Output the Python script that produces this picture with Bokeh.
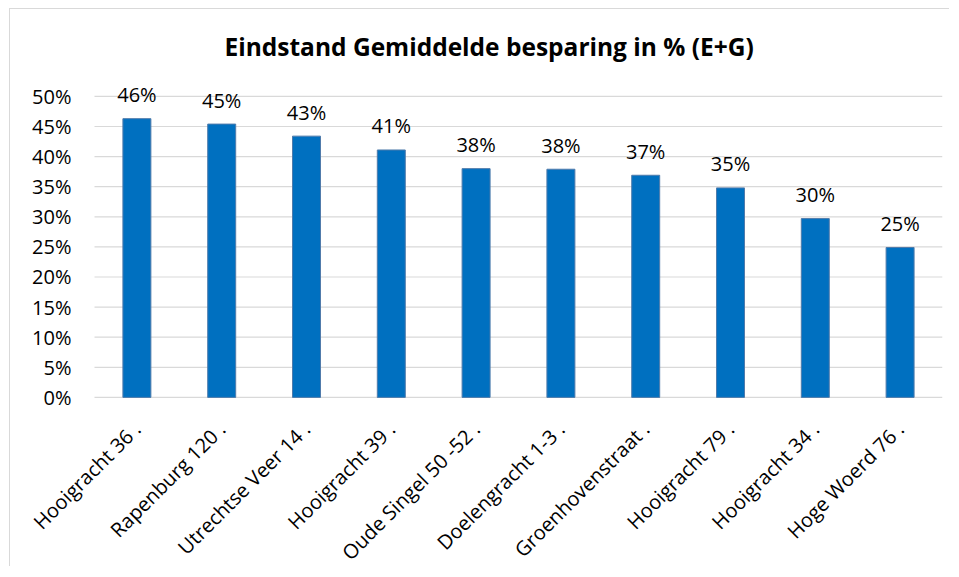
import math
from bokeh.plotting import figure
from bokeh.models import ColumnDataSource, Range1d
from bokeh.core.properties import value
from bokeh.embed import file_html
from bokeh.resources import INLINE

categories = ["Hooigracht 36 .", "Rapenburg 120 .", "Utrechtse Veer 14 .", "Hooigracht 39 .",
              "Oude Singel 50 -52 .", "Doelengracht 1-3 .", "Groenhovenstraat .", "Hooigracht 79 .",
              "Hooigracht 34 .", "Hoge Woerd 76 ."]
savings = [0.463, 0.454, 0.434, 0.411, 0.380, 0.379, 0.369, 0.348, 0.297, 0.249]
y_ticks = [0.0, 0.05, 0.10, 0.15, 0.20, 0.25, 0.30, 0.35, 0.40, 0.45, 0.50]
y_tick_labels = ["0%", "5%", "10%", "15%", "20%", "25%", "30%", "35%", "40%", "45%", "50%"]
title_text = "Eindstand Gemiddelde besparing in % (E+G)"

n = len(categories)
pos = list(range(n))
labels = [f"{round(v * 100)}%" for v in savings]
src = ColumnDataSource(dict(pos=pos, cat=categories, val=savings, lab=labels, base=[0.0] * n))
grid_src = ColumnDataSource(dict(y=y_ticks, lab=y_tick_labels,
                                 x0=[-0.5] * len(y_ticks), x1=[n - 0.5] * len(y_ticks)))

FONT = "Open Sans"
W, H = 940, 558

# the frame reaches past the category area so that the rotated labels and
# the value-axis labels (drawn as text) are not clipped
p = figure(x_range=Range1d(-1.3844, n - 0.5), y_range=Range1d(-0.2826, 0.548),
           width=W, height=H, output_backend="svg", toolbar_location=None,
           min_border_left=9, min_border_right=8, min_border_top=58, min_border_bottom=0,
           styles={"margin-left": "9px", "margin-top": "8px",
                   "border-left": "1px solid #d9d9d9", "border-top": "1px solid #d9d9d9"})

p.title.text = title_text
p.title.text_font = FONT
p.title.text_font_size = "24.5px"
p.title.text_font_style = "bold"
p.title.text_color = "#000000"
p.title.align = "left"
p.title.offset = 205

# gridlines
p.segment(x0="x0", y0="y", x1="x1", y1="y", source=grid_src,
          line_color="#d9d9d9", line_width=1.2)

# value-axis labels
p.text(x="x0", y="y", text="lab", source=grid_src, text_align="right",
       text_baseline="middle", x_offset=-23, text_font=value(FONT),
       text_font_size=value("20px"), text_color="#000000")

p.vbar(x="pos", top="val", width=0.33, source=src, fill_color="#0070C0",
       line_color="#4f7bab", line_width=1)

p.text(x="pos", y="val", text="lab", source=src, text_align="center",
       text_baseline="alphabetic", y_offset=-24, text_font=value(FONT),
       text_font_size=value("20px"), text_color="#000000")

# category labels, rotated 45 degrees, ending under each bar
p.text(x="pos", y="base", text="cat", source=src, angle=math.pi / 4,
       text_align="right", text_baseline="middle", y_offset=28,
       text_font=value(FONT), text_font_size=value("20px"), text_color="#000000")

p.outline_line_color = None
p.xgrid.visible = False
p.ygrid.visible = False
p.xaxis.visible = False
p.yaxis.visible = False

open("out.html", "w").write(file_html(p, INLINE))
